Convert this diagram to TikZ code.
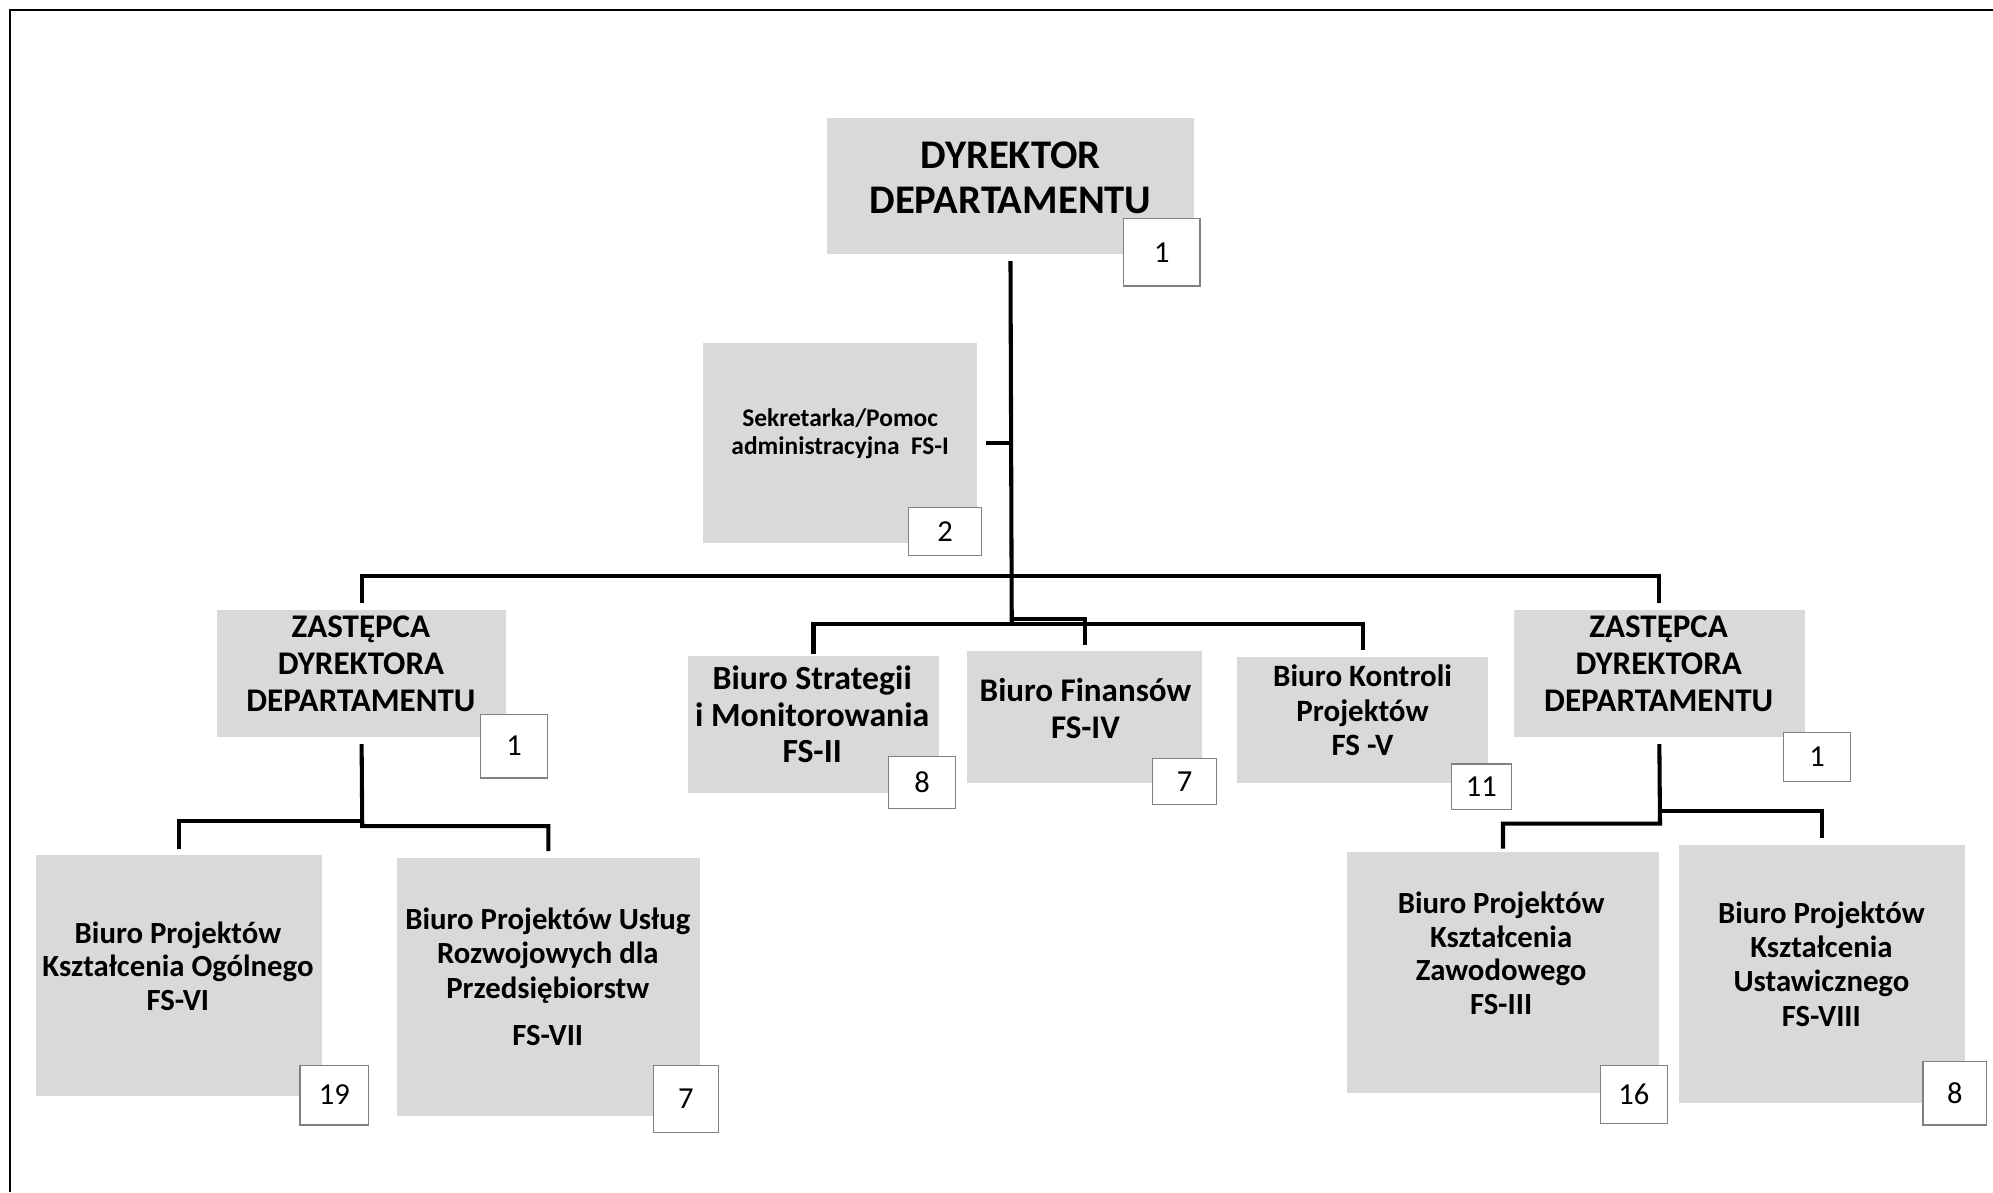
\documentclass[tikz,border=0pt]{standalone}
\usepackage{fontspec}
\setmainfont{Carlito}
\usepackage{tikz}

\definecolor{boxgray}{HTML}{D9D9D9}
\definecolor{badgegray}{HTML}{808080}

\tikzset{
  wh/.style 2 args={minimum width=#1*0.5pt, minimum height=#2*0.5pt},
  conn/.style={draw, line width=1.6pt},
}

\begin{document}
\begin{tikzpicture}[x=0.5pt,y=-0.5pt]

        \useasboundingbox (0,0) rectangle (1568,938);
        \draw[line width=0.8pt] (8,938) -- (8,8) -- (1568,8);

        \begin{scope}[every node/.style={fill=boxgray, inner sep=0pt}]
          \node[wh={288}{107}] (dyr) at (795,146.5)   {};
          \node[wh={216}{157}] (sek) at (661,348.5)   {};
          \node[wh={227}{100}] (zl)  at (284.5,530)   {};
          \node[wh={229}{100}] (zp)  at (1305.5,530)  {};
          \node[wh={198}{108}] (bs)  at (640,570)     {};
          \node[wh={185}{104}] (bf)  at (853.5,564)   {};
          \node[wh={198}{99}]  (bk)  at (1072,566.5)  {};
          \node[wh={225}{189}] (bo)  at (140.5,767.5) {};
          \node[wh={239}{203}] (bu)  at (431.5,776.5) {};
          \node[wh={245}{190}] (bz)  at (1182.5,765)  {};
          \node[wh={225}{203}] (bw)  at (1433.5,766.5) {};
        \end{scope}

        \coordinate (j0)  at (796,453);
        \coordinate (j1)  at (796,491);
        \coordinate (j2)  at (796,487);
        \coordinate (jl1) at (285,646);
        \coordinate (jl2) at (285,650);
        \coordinate (jr1) at (1306,638);
        \coordinate (jr2) at (1306,648);

        \begin{scope}[every path/.style={conn}]
          \path ([yshift=-2.5pt]dyr.south) -- (j1);
          \path ([xshift=3pt]sek.east) -- (sek.east -| j1);
          \path ([yshift=2.5pt]zl.north) |- (j0) -| ([yshift=2.5pt]zp.north);
          \path ([yshift=0.5pt]bs.north) |- (j1) -| ([yshift=2.5pt]bk.north);
          \path (j2) -| ([yshift=2pt]bf.north);
          \path ([yshift=-2.5pt]zl.south) -- (jl2) -| ([yshift=2.5pt]bu.north);
          \path (jl1) -| ([yshift=2.5pt]bo.north);
          \path ([yshift=-2.5pt]zp.south) -- (jr2) -| ([yshift=1pt]bz.north);
          \path (jr1) -| ([yshift=2.5pt]bw.north);
        \end{scope}

        \begin{scope}[every node/.style={draw=badgegray, line width=0.5pt, fill=white, inner sep=0pt,
                                         font=\fontsize{12}{14}\selectfont}]
          \node[wh={60}{53}] (n-dyr) at (914,198.5)   {1};
          \node[wh={57}{38}] (n-sek) at (743.5,418)   {2};
          \node[wh={53}{50}] (n-zl)  at (404.5,587)   {1};
          \node[wh={53}{39}] (n-zp)  at (1429.5,595.5) {1};
          \node[wh={53}{41}] (n-bs)  at (725.5,615.5) {8};
          \node[wh={50}{36}] (n-bf)  at (932,615)     {7};
          \node[wh={47}{36}] (n-bk)  at (1165.5,619)  {11};
          \node[wh={54}{47}] (n-bo)  at (263,861.5)   {19};
          \node[wh={51}{53}] (n-bu)  at (539.5,864.5) {7};
          \node[wh={53}{46}] (n-bz)  at (1285.5,861)  {16};
          \node[wh={50}{50}] (n-bw)  at (1538,860)    {8};
        \end{scope}

        \begin{scope}[every node/.style={align=center, inner sep=0pt}]
          \node[font=\bfseries\fontsize{16}{17.5}\selectfont] (dyr-t) at (795,140)
            {DYREKTOR\\DEPARTAMENTU};
          \node[font=\bfseries\fontsize{10}{11}\selectfont] (sek-t) at (661,341)
            {Sekretarka/Pomoc\\administracyjna\ \ FS-I};
          \node[font=\bfseries\fontsize{13}{14.5}\selectfont] (zl-t) at (284,522)
            {ZASTĘPCA\\DYREKTORA\\DEPARTAMENTU};
          \node[font=\bfseries\fontsize{13}{14.5}\selectfont] (zp-t) at (1305,522)
            {ZASTĘPCA\\DYREKTORA\\DEPARTAMENTU};
          \node[font=\bfseries\fontsize{13.3}{14.5}\selectfont] (bs-t) at (639,562)
            {Biuro Strategii\\i Monitorowania\\FS-II};
          \node[font=\bfseries\fontsize{13}{14.5}\selectfont] (bf-t) at (854,557.5)
            {Biuro Finansów\\FS-IV};
          \node[font=\bfseries\fontsize{12.2}{13.5}\selectfont] (bk-t) at (1072,559)
            {Biuro Kontroli\\Projektów\\FS -V};
          \node[font=\bfseries\fontsize{12.1}{13.25}\selectfont] (bo-t) at (140,760)
            {Biuro Projektów\\Kształcenia Ogólnego\\FS-VI};
          \node[font=\bfseries\fontsize{12.1}{13.5}\selectfont] (bu-t) at (431,768.5)
            {Biuro Projektów Usług\\Rozwojowych dla\\Przedsiębiorstw\\[5pt]FS-VII};
          \node[font=\bfseries\fontsize{12.1}{13.25}\selectfont] (bz-t) at (1181,750)
            {Biuro Projektów\\Kształcenia\\Zawodowego\\FS-III};
          \node[font=\bfseries\fontsize{12.1}{13.5}\selectfont] (bw-t) at (1433,758.5)
            {Biuro Projektów\\Kształcenia\\Ustawicznego\\FS-VIII};
        \end{scope}

\end{tikzpicture}
\end{document}
